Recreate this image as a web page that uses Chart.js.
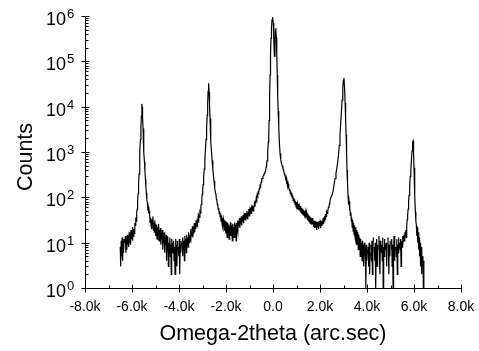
<!DOCTYPE html>
<html>
<head>
<meta charset="utf-8">
<script src="https://cdn.jsdelivr.net/npm/chart.js@4/dist/chart.umd.min.js"></script>
<style>
  html, body { margin: 0; padding: 0; background: #fff; }
</style>
</head>
<body>
<canvas id="xrdChart" width="479" height="351"></canvas>
<script>
// omega-2theta scan, [arc.sec, counts]
const tailLeft = [
  [-6520, 0], [-6500, 8], [-6480, 3], [-6460, 11], [-6440, 5], [-6420, 13], [-6400, 4], [-6380, 9],
  [-6360, 6], [-6340, 12], [-6320, 0], [-6300, 10], [-6280, 14], [-6260, 6], [-6240, 11], [-6220, 7],
  [-6200, 15], [-6180, 9], [-6160, 13], [-6140, 8], [-6120, 17], [-6100, 10], [-6080, 14], [-6060, 9],
  [-6040, 19], [-6020, 12], [-6000, 16], [-5980, 11], [-5960, 22], [-5940, 14], [-5920, 20], [-5900, 16],
  [-5880, 27]
];
const peakA = [
  [-5860, 24], [-5840, 36], [-5820, 30], [-5800, 46], [-5780, 55], [-5760, 85], [-5740, 120], [-5720, 190],
  [-5700, 330], [-5680, 580], [-5660, 1050], [-5640, 1900], [-5620, 3500], [-5600, 6200], [-5585, 9500],
  [-5575, 11500], [-5565, 9800], [-5550, 6000], [-5530, 3300], [-5510, 1800], [-5490, 1000], [-5470, 600],
  [-5450, 380], [-5430, 250], [-5410, 170], [-5390, 125], [-5370, 88], [-5350, 78], [-5330, 58],
  [-5310, 62], [-5290, 44], [-5270, 50]
];
const valleyA = [
  [-5250, 42], [-5230, 28], [-5210, 36], [-5190, 24], [-5170, 33], [-5150, 20], [-5130, 30], [-5110, 38],
  [-5090, 19], [-5070, 27], [-5050, 17], [-5030, 31], [-5010, 22], [-4990, 14], [-4970, 25], [-4950, 18],
  [-4930, 12], [-4910, 22], [-4890, 15], [-4870, 26], [-4850, 11], [-4830, 19], [-4810, 13], [-4790, 21],
  [-4770, 9], [-4750, 16], [-4730, 12], [-4710, 19], [-4690, 7], [-4670, 14], [-4650, 10], [-4630, 17],
  [-4610, 6], [-4590, 13], [-4570, 9], [-4550, 15], [-4530, 4], [-4510, 11], [-4490, 7], [-4470, 14],
  [-4450, 3], [-4430, 10], [-4410, 6], [-4390, 13], [-4370, 5], [-4350, 9], [-4330, 2], [-4310, 12],
  [-4290, 6], [-4270, 10], [-4250, 0], [-4230, 11], [-4210, 4], [-4190, 8], [-4170, 2], [-4150, 12],
  [-4130, 5], [-4110, 9], [-4090, 3], [-4070, 11], [-4050, 0], [-4030, 8], [-4010, 5], [-3990, 12],
  [-3970, 2], [-3950, 9], [-3930, 6], [-3910, 11], [-3890, 0], [-3870, 10], [-3850, 5], [-3830, 13],
  [-3810, 7], [-3790, 11], [-3770, 4], [-3750, 14], [-3730, 8], [-3710, 12], [-3690, 6], [-3670, 15],
  [-3650, 9], [-3630, 13], [-3610, 8], [-3590, 17], [-3570, 10], [-3550, 15], [-3530, 12], [-3510, 20],
  [-3490, 11], [-3470, 18], [-3450, 14], [-3430, 23], [-3410, 13], [-3390, 21], [-3370, 16], [-3350, 27],
  [-3330, 17], [-3310, 25], [-3290, 20], [-3270, 31], [-3250, 22], [-3230, 29], [-3210, 26], [-3190, 35],
  [-3170, 28], [-3150, 40]
];
const peakB = [
  [-3130, 36], [-3110, 48], [-3090, 45], [-3070, 62], [-3050, 70], [-3030, 95], [-3010, 118], [-2990, 150],
  [-2975, 190], [-2950, 280], [-2925, 420], [-2900, 680], [-2875, 1100], [-2850, 1900], [-2825, 3400],
  [-2800, 6500], [-2780, 12000], [-2760, 22000], [-2740, 33000], [-2720, 21000], [-2700, 10500],
  [-2680, 5500], [-2660, 2900], [-2640, 1700], [-2615, 1000], [-2590, 650], [-2560, 420], [-2530, 280],
  [-2510, 230], [-2490, 180], [-2470, 160], [-2450, 125], [-2430, 118], [-2410, 92], [-2390, 88],
  [-2370, 70], [-2350, 66], [-2330, 54], [-2310, 58], [-2290, 44], [-2270, 49], [-2250, 37], [-2230, 44]
];
const valleyB = [
  [-2210, 30], [-2190, 40], [-2170, 26], [-2150, 35], [-2130, 22], [-2110, 33], [-2090, 28], [-2070, 19],
  [-2050, 31], [-2030, 24], [-2010, 16], [-1990, 29], [-1970, 21], [-1950, 13], [-1930, 27], [-1910, 18],
  [-1890, 25], [-1870, 12], [-1850, 23], [-1830, 17], [-1810, 28], [-1790, 14], [-1770, 24], [-1750, 19],
  [-1730, 11], [-1710, 26], [-1690, 16], [-1670, 22], [-1650, 13], [-1630, 28], [-1610, 18], [-1590, 25],
  [-1570, 11], [-1550, 27], [-1530, 20], [-1510, 31], [-1490, 17], [-1470, 29], [-1450, 23], [-1430, 35],
  [-1410, 21], [-1390, 32], [-1370, 26], [-1350, 38], [-1330, 24], [-1310, 35], [-1290, 29], [-1270, 41],
  [-1250, 27], [-1230, 38], [-1210, 32], [-1190, 45], [-1170, 31], [-1150, 42], [-1130, 36], [-1110, 50],
  [-1090, 34], [-1070, 47], [-1050, 41], [-1030, 55], [-1010, 39], [-990, 51], [-970, 46], [-950, 60],
  [-930, 44], [-910, 57], [-890, 52], [-870, 66], [-850, 50], [-830, 63], [-810, 58], [-790, 72],
  [-770, 62], [-750, 80]
];
const substrate = [
  [-730, 78], [-710, 98], [-690, 90], [-670, 115], [-650, 108], [-630, 130], [-610, 125], [-590, 152],
  [-570, 150], [-550, 180], [-530, 172], [-510, 215], [-490, 225], [-470, 255], [-450, 262], [-430, 290],
  [-410, 300], [-390, 318], [-370, 335], [-350, 350], [-330, 372], [-310, 410], [-290, 470], [-270, 560],
  [-250, 640], [-235, 720], [-215, 1050], [-195, 1700], [-180, 2600], [-165, 5000], [-145, 15000],
  [-125, 50000], [-105, 140000], [-85, 320000], [-65, 560000], [-40, 820000], [-15, 950000], [10, 700000],
  [35, 300000], [60, 130000], [85, 300000], [105, 480000], [120, 540000], [140, 330000], [160, 150000],
  [180, 50000], [200, 18000], [220, 8000], [245, 3600], [270, 1700], [300, 930], [330, 680], [360, 560],
  [390, 500], [420, 440], [450, 410], [480, 330], [510, 300], [540, 255], [560, 275], [580, 215],
  [600, 225], [620, 180], [640, 200], [660, 155], [680, 170], [700, 140], [720, 152], [740, 120],
  [760, 136], [780, 108], [800, 125], [820, 98], [840, 110], [860, 86], [880, 98], [900, 78], [920, 90],
  [940, 70], [960, 82]
];
const valleyC = [
  [980, 62], [1000, 78], [1020, 58], [1040, 72], [1060, 55], [1080, 70], [1100, 52], [1120, 66],
  [1140, 60], [1160, 50], [1180, 64], [1200, 46], [1220, 58], [1240, 44], [1260, 56], [1280, 41],
  [1300, 53], [1320, 42], [1340, 50], [1360, 38], [1380, 48], [1400, 36], [1420, 46], [1440, 39],
  [1460, 33], [1480, 44], [1500, 31], [1520, 40], [1540, 29], [1560, 38], [1580, 27], [1600, 36],
  [1620, 30], [1640, 25], [1660, 35], [1680, 26], [1700, 33], [1720, 23], [1740, 31], [1760, 25],
  [1780, 21], [1800, 30], [1820, 22], [1840, 28], [1860, 19], [1880, 29], [1900, 22], [1920, 27],
  [1940, 20], [1960, 30], [1980, 23], [2000, 28], [2020, 21], [2040, 31], [2060, 24], [2080, 30],
  [2100, 26], [2120, 34], [2140, 27], [2160, 36], [2180, 30], [2200, 39], [2220, 33], [2240, 43],
  [2260, 38], [2280, 47], [2300, 44], [2320, 52], [2340, 50], [2360, 60], [2380, 62], [2400, 72],
  [2420, 80]
];
const peakC = [
  [2440, 90], [2480, 105], [2520, 115], [2560, 140], [2600, 190], [2640, 260], [2680, 340], [2720, 450],
  [2760, 640], [2790, 900], [2820, 1400], [2850, 2400], [2880, 4200], [2910, 7500], [2940, 14000],
  [2970, 26000], [2995, 38000], [3020, 43000], [3045, 26000], [3070, 12000], [3090, 5500], [3110, 2400],
  [3130, 1000], [3150, 400], [3170, 200], [3195, 110], [3215, 70], [3235, 82], [3255, 52], [3275, 60],
  [3295, 40], [3315, 46], [3335, 30]
];
const tailC = [
  [3350, 36], [3370, 22], [3390, 32], [3410, 18], [3430, 27], [3450, 15], [3470, 24], [3490, 13],
  [3510, 22], [3530, 11], [3550, 19], [3570, 9], [3590, 17], [3610, 12], [3630, 7], [3650, 15],
  [3670, 8], [3690, 13], [3710, 5], [3730, 12], [3750, 7], [3770, 10], [3790, 4], [3810, 11],
  [3830, 6], [3850, 9], [3870, 3], [3890, 10], [3910, 5], [3930, 8], [3950, 1], [3970, 9],
  [3990, 4], [4010, 7], [4030, 0], [4050, 8], [4070, 3], [4090, 10], [4110, 2], [4130, 6],
  [4150, 0], [4170, 9], [4190, 4]
];
const floorC = [
  [4210, 11], [4230, 2], [4250, 7], [4270, 13], [4290, 0], [4310, 8], [4330, 4], [4350, 10],
  [4370, 1], [4390, 6], [4410, 12], [4430, 3], [4450, 9], [4470, 0], [4490, 7], [4510, 14],
  [4530, 5], [4550, 2], [4570, 11], [4590, 6], [4610, 0], [4630, 9], [4650, 4], [4670, 13],
  [4690, 1], [4710, 8], [4730, 5], [4750, 12], [4770, 0], [4790, 7], [4810, 10], [4830, 3],
  [4850, 8], [4870, 0], [4890, 13], [4910, 6], [4930, 2], [4950, 9], [4970, 5], [4990, 11],
  [5010, 0], [5030, 7], [5050, 12], [5070, 3], [5090, 9], [5110, 1], [5130, 6], [5150, 14],
  [5170, 4], [5190, 10], [5210, 0], [5230, 8], [5250, 5], [5270, 12], [5290, 2], [5310, 9],
  [5330, 6], [5350, 13], [5370, 0], [5390, 10], [5410, 7], [5430, 12], [5450, 3], [5470, 11],
  [5490, 8], [5510, 14], [5530, 9]
];
const peakD = [
  [5550, 12], [5570, 15], [5590, 11], [5610, 17], [5630, 14], [5650, 19], [5670, 13], [5690, 24],
  [5710, 32], [5730, 40], [5750, 55], [5770, 80], [5790, 110], [5815, 175], [5840, 290], [5865, 400],
  [5890, 650], [5915, 1050], [5940, 1650], [5960, 1750], [5980, 1000], [6000, 450], [6020, 230],
  [6040, 110], [6060, 48], [6080, 30], [6100, 24], [6120, 14], [6140, 22], [6160, 10], [6180, 17],
  [6200, 7], [6220, 13], [6240, 5], [6260, 10], [6280, 3], [6300, 8], [6320, 2], [6340, 6], [6360, 0],
  [6380, 5], [6400, 1], [6420, 4], [6440, 0], [6460, 3], [6480, 0], [6500, 2], [6520, 0]
];

const xTicks = [-8000, -6000, -4000, -2000, 0, 2000, 4000, 6000, 8000];
const xLabels = ["-8.0k", "-6.0k", "-4.0k", "-2.0k", "0.0", "2.0k", "4.0k", "6.0k", "8.0k"];
const yDecades = [0, 1, 2, 3, 4, 5, 6];

const scan = [...tailLeft, ...peakA, ...valleyA, ...peakB, ...valleyB, ...substrate,
  ...valleyC, ...peakC, ...tailC, ...floorC, ...peakD].map(([x, y]) => ({ x, y }));

const fontFamily = "'Liberation Sans', Arial, sans-serif";

// axis lines, ticks, 10^n labels and the y title
const axisMarks = {
  id: "axisMarks",
  afterDraw(chart) {
    const { ctx, chartArea, scales } = chart;
    const xs = scales.x;
    const ys = scales.y;
    const ax = Math.round(chartArea.left) + 0.5;
    const ay = Math.round(chartArea.bottom) + 0.5;
    ctx.save();
    ctx.strokeStyle = "#000";
    ctx.lineWidth = 1;
    ctx.beginPath();
    ctx.moveTo(ax, Math.round(chartArea.top));
    ctx.lineTo(ax, ay);
    ctx.lineTo(Math.round(chartArea.right) + 1, ay);

    xTicks.forEach((v, i) => {
      const px = Math.round(xs.getPixelForValue(v)) + 0.5;
      ctx.moveTo(px, ay - 4);
      ctx.lineTo(px, ay + 4);
      if (i < xTicks.length - 1) {
        const mx = Math.round(xs.getPixelForValue((v + xTicks[i + 1]) / 2)) + 0.5;
        ctx.moveTo(mx, ay - 3);
        ctx.lineTo(mx, ay);
      }
    });

    yDecades.forEach((e) => {
      const py = Math.round(ys.getPixelForValue(10 ** e)) + 0.5;
      ctx.moveTo(ax - 4, py);
      ctx.lineTo(ax + 4, py);
      if (e < 6) {
        for (let m = 2; m <= 9; m++) {
          const my = Math.round(ys.getPixelForValue(m * 10 ** e)) + 0.5;
          ctx.moveTo(ax, my);
          ctx.lineTo(ax + 3, my);
        }
      }
    });
    ctx.stroke();

    ctx.fillStyle = "#000";
    ctx.textBaseline = "alphabetic";
    yDecades.forEach((e) => {
      const py = ys.getPixelForValue(10 ** e);
      ctx.font = "18px " + fontFamily;
      ctx.textAlign = "right";
      ctx.fillText("10", 66, py + 9);
      ctx.font = "13px " + fontFamily;
      ctx.textAlign = "left";
      ctx.fillText(String(e), 67, py + 2);
    });

    ctx.translate(26, 157);
    ctx.rotate(-Math.PI / 2);
    ctx.font = "21.5px " + fontFamily;
    ctx.textAlign = "center";
    ctx.textBaseline = "middle";
    ctx.fillText("Counts", 0, 0);
    ctx.restore();
  }
};

new Chart(document.getElementById("xrdChart"), {
  type: "line",
  data: {
    datasets: [{
      label: "Counts",
      data: scan,
      borderColor: "#000",
      borderWidth: 1.2,
      pointRadius: 0,
      tension: 0,
      fill: false
    }]
  },
  options: {
    responsive: false,
    animation: false,
    events: [],
    layout: {
      padding: { left: 0, top: 16, right: 18, bottom: 0 }
    },
    plugins: {
      legend: { display: false },
      tooltip: { enabled: false }
    },
    scales: {
      x: {
        type: "linear",
        min: -8000,
        max: 8000,
        border: { display: false },
        grid: { display: false, drawTicks: false },
        ticks: {
          stepSize: 2000,
          autoSkip: false,
          maxRotation: 0,
          padding: 11,
          color: "#000",
          font: { family: fontFamily, size: 14 },
          callback: (v) => xLabels[xTicks.indexOf(v)] ?? ""
        },
        title: {
          display: true,
          text: "Omega-2theta (arc.sec)",
          color: "#000",
          font: { family: fontFamily, size: 21.5 },
          padding: { top: 0, bottom: 4 }
        },
        afterFit(scale) {
          scale.height = 63;
          scale.paddingLeft = 0;
          scale.paddingRight = 0;
        }
      },
      y: {
        type: "logarithmic",
        min: 1,
        max: 1000000,
        border: { display: false },
        grid: { display: false, drawTicks: false },
        ticks: { display: false },
        afterFit(scale) {
          scale.width = 85;
        }
      }
    }
  },
  plugins: [axisMarks]
});
</script>
</body>
</html>
